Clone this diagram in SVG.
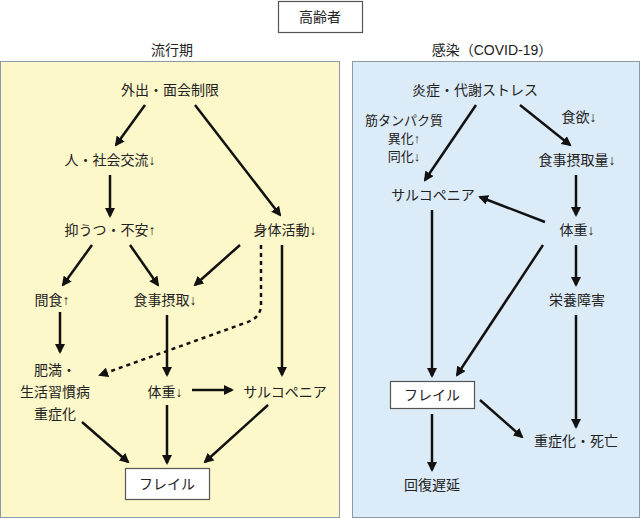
<svg xmlns="http://www.w3.org/2000/svg" width="640" height="519" viewBox="0 0 640 519">
<style>
text{font-family:"Liberation Sans","Noto Sans CJK JP",sans-serif;font-size:14px;fill:#222;text-anchor:middle;dominant-baseline:central}
.c line,.c path{stroke:#111;stroke-width:2.5;fill:none;marker-end:url(#a)}
.box{fill:#fff;stroke:#555;stroke-width:1.2}
</style>
<defs><marker id="a" viewBox="0 0 10 10" refX="8" refY="5" markerWidth="4" markerHeight="4" orient="auto" markerUnits="strokeWidth"><path d="M0,0L10,5L0,10z" fill="#111"/></marker></defs>
<rect x="0.5" y="61.5" width="339" height="456" fill="#fdf8c9" stroke="#8a9aa8"/>
<rect x="352.5" y="61.5" width="287" height="456" fill="#dcebf8" stroke="#8a9aa8"/>
<g id="title"><rect class="box" x="278.5" y="1.5" width="84" height="31"/><text x="320" y="17">高齢者</text></g>
<text x="172" y="50">流行期</text>
<text x="492" y="50">感染（COVID-19）</text>
<g id="L1"><text x="170" y="90">外出・面会制限</text></g>
<g id="L2"><text x="110" y="160">人・社会交流↓</text></g>
<g id="L3"><text x="110" y="230">抑うつ・不安↑</text></g>
<g id="L4"><text x="285" y="230">身体活動↓</text></g>
<g id="L5"><text x="52" y="300">間食↑</text></g>
<g id="L6"><text x="165" y="300">食事摂取↓</text></g>
<g id="L7"><text x="55" y="370">肥満・</text><text x="55" y="392">生活習慣病</text><text x="55" y="414">重症化</text></g>
<g id="L8"><text x="165" y="392">体重↓</text></g>
<g id="L9"><text x="285" y="392">サルコペニア</text></g>
<g id="L10"><rect class="box" x="125.5" y="468.5" width="84" height="31"/><text x="167" y="484">フレイル</text></g>
<g id="R1"><text x="475" y="90">炎症・代謝ストレス</text></g>
<g id="R2"><text x="404" y="120" style="font-size:13px">筋タンパク質</text><text x="404" y="138" style="font-size:13px">異化↑</text><text x="404" y="156" style="font-size:13px">同化↓</text></g>
<g id="R3"><text x="579" y="117">食欲↓</text></g>
<g id="R4"><text x="577" y="160">食事摂取量↓</text></g>
<g id="R5"><text x="433" y="195">サルコペニア</text></g>
<g id="R6"><text x="577" y="230">体重↓</text></g>
<g id="R7"><text x="577" y="300">栄養障害</text></g>
<g id="R8"><rect class="box" x="390.5" y="381.5" width="84" height="27"/><text x="432" y="395">フレイル</text></g>
<g id="R9"><text x="576" y="441">重症化・死亡</text></g>
<g id="R10"><text x="432" y="485">回復遅延</text></g>
<g class="c" id="connectors">
<line x1="145" y1="105" x2="116" y2="145"/>
<line x1="195" y1="105" x2="280" y2="215"/>
<line x1="110" y1="175" x2="110" y2="216"/>
<line x1="92" y1="245" x2="63" y2="285"/>
<line x1="130" y1="245" x2="158" y2="285"/>
<line x1="240" y1="245" x2="195" y2="285"/>
<path d="M261,245 L261,305 Q261,318 245,323 L100,375" stroke-dasharray="4,4"/>
<line x1="282" y1="245" x2="282" y2="375"/>
<line x1="60" y1="312" x2="60" y2="352"/>
<line x1="167" y1="315" x2="167" y2="375"/>
<line x1="192" y1="390" x2="232" y2="390"/>
<line x1="82" y1="422" x2="128" y2="462"/>
<line x1="167" y1="405" x2="167" y2="463"/>
<line x1="268" y1="405" x2="205" y2="462"/>
<line x1="476" y1="105" x2="425" y2="180"/>
<line x1="520" y1="105" x2="570" y2="145"/>
<line x1="576" y1="175" x2="576" y2="215"/>
<line x1="545" y1="222" x2="480" y2="197"/>
<line x1="576" y1="245" x2="576" y2="285"/>
<line x1="543" y1="245" x2="457" y2="375"/>
<line x1="432" y1="210" x2="432" y2="376"/>
<line x1="576" y1="315" x2="576" y2="427"/>
<line x1="480" y1="400" x2="522" y2="437"/>
<line x1="432" y1="414" x2="432" y2="470"/>
</g>
</svg>
